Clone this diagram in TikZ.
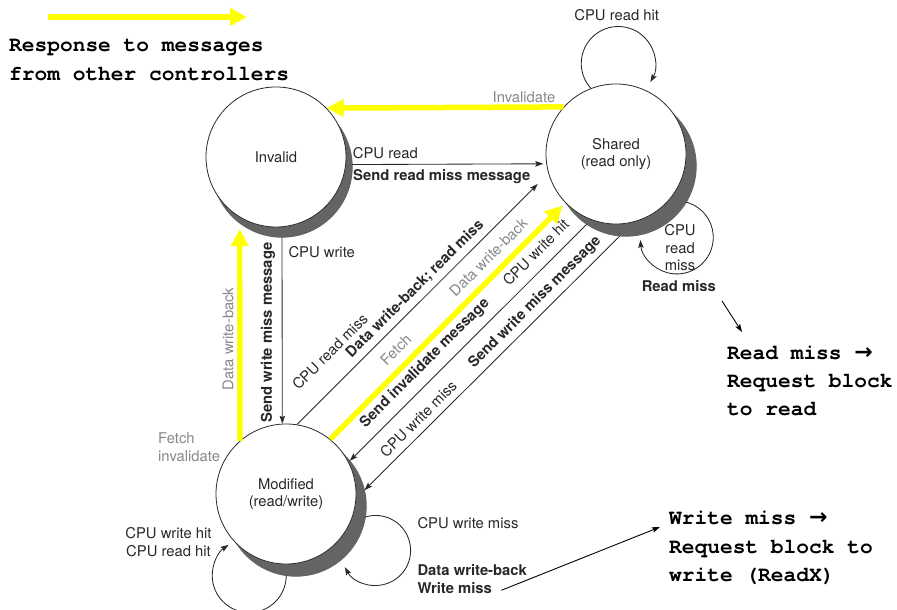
\documentclass[tikz,border=0pt]{standalone}
\usepackage{fontspec}
\setmainfont{TeX Gyre Heros}
\IfFontExistsTF{TeX Gyre Cursor}
  {\newfontfamily\notefont{TeX Gyre Cursor}}
  {\newfontfamily\notefont{Liberation Mono}}
\newfontfamily\arrowfont{DejaVu Sans}
\usetikzlibrary{arrows.meta}

\definecolor{hl}{RGB}{255,255,0}
\definecolor{shadowgray}{RGB}{100,100,100}
\definecolor{ink}{RGB}{40,40,40}
\definecolor{soft}{RGB}{135,135,135}

\newcommand\dgfont{\fontsize{14.8}{17.5}\selectfont}
\newcommand\cnfont{\notefont\bfseries\fontsize{21.2}{28.3}\selectfont}
\newcommand\rarr{{\arrowfont\bfseries\fontsize{22}{22}\selectfont →}}

\tikzset{
  stateshape/.style={circle, draw=ink, line width=0.8pt, fill=white,
    minimum size=140pt, inner sep=0pt, align=center, text=ink, font=\dgfont},
  stateshadow/.style={circle, draw=shadowgray, line width=0.5pt, fill=shadowgray,
    minimum size=140pt, inner sep=0pt},
  ring/.style={line width=1.7pt},
  edge/.style={draw=ink, line width=0.85pt, -{Stealth[length=8pt,width=5.5pt,inset=1.5pt]}},
  hlarrow/.style={draw=hl, line width=5.5pt, -{Triangle[length=17pt,width=17pt]}},
  notearrow/.style={draw=black, line width=0.9pt, -{Stealth[length=8pt,width=5.5pt,inset=1.5pt]}},
  lbl/.style={inner sep=0pt, text=ink, font=\dgfont},
  blbl/.style={inner sep=0pt, text=ink, font=\dgfont\bfseries},
  glbl/.style={inner sep=0pt, text=soft, font=\dgfont},
  note/.style={inner sep=0pt, text=black, font=\cnfont, align=left},
}

\begin{document}
\begin{tikzpicture}[x=1pt, y=1pt]
\useasboundingbox (0,0) rectangle (897,610);

% legend
\coordinate (legA) at (48,593);
\coordinate (legB) at (247,593);
\draw[hlarrow] (legA) -- (legB);
\node[note, anchor=north west] (legtext) at (9,571)
  {Response to messages\\from other controllers};

% centres of the states
\coordinate (invC) at (276,453);
\coordinate (shC)  at (616,456);
\coordinate (modC) at (286,116);

% drop shadows of the states, painted solid with close concentric rings
\node[stateshadow] (invS) at (282,443) {};
\node[stateshadow] (shS)  at (626,444) {};
\node[stateshadow] (modS) at (296,104) {};
\foreach \n in {invS,shS,modS}{
  \foreach \k in {0,...,46}{
    \pgfmathsetmacro\rr{0.8+1.5*\k}
    \draw[ring, shadowgray] (\n.center) circle[radius=\rr pt];
  }
}
% white faces of the states
\foreach \n in {invC,shC,modC}{
  \foreach \k in {0,...,45}{
    \pgfmathsetmacro\rr{0.8+1.5*\k}
    \draw[ring, white] (\n) circle[radius=\rr pt];
  }
  \draw[ring, white] (\n) circle[radius=69.2pt];
}

% states
\node[stateshape] (inv) at (invC) {Invalid};
\node[stateshape] (sh)  at (shC) {Shared\\(read only)};
\node[stateshape] (mod) at (modC) {Modified\\(read/write)};

% processor-side transitions
\draw[edge, shorten >=3pt] (invS.2.5) -- (sh.188);
\draw[edge] (invS.270) -- (mod.93);
\draw[edge, shorten >=15pt] (mod.81) -- (sh.196);
\draw[edge] (shS.236) -- (modS.40);
\draw[edge] (shS.265) -- (modS.13);

% bus-side transitions
\draw[hlarrow] (sh.138) -- (inv.44);
\draw[hlarrow, shorten >=6pt] (mod.131) -- (invS.233);
\draw[hlarrow, shorten >=4pt] (mod.51) -- (sh.224);

% self loops
\draw[edge] (sh.111) arc[start angle=222, end angle=-30, radius=37pt];
\draw[edge] (shS.-31) arc[start angle=75, end angle=-176, radius=36.5pt];
\draw[edge] (modS.262) arc[start angle=0, end angle=-236, radius=37pt];
\draw[edge] (modS.-9) arc[start angle=107, end angle=-151.5, radius=35pt];

% transition labels
\node[lbl, anchor=base] (cpuhit) at (616.7,589.3) {CPU read hit};
\node[glbl, anchor=base] (invl) at (524,507.3) {Invalidate};
\node[lbl, anchor=base west] (cpur) at (352.7,451.7) {CPU read};
\node[blbl, anchor=base west] (srm) at (353,429.5) {Send read miss message};
\node[lbl, anchor=base west] (cpuw) at (288.3,352.7) {CPU write};
\node[blbl, rotate=90] (swm) at (268,277.5) {Send write miss message};
\node[glbl, rotate=90] (dwbv) at (228,271) {Data write-back};
\node[glbl, anchor=north west, align=left] (fi) at (158,177.3) {Fetch\\invalidate};
\node[lbl, anchor=north, align=center] (hits) at (168.5,82.7) {CPU write hit\\CPU read hit};
\node[lbl, anchor=base west] (cwm) at (417.3,81) {CPU write miss};
\node[blbl, anchor=base west] (wbwm) at (417.3,34) {Data write-back};
\node[blbl, anchor=base west] (wmiss) at (417.3,16) {Write miss};
\node[lbl, anchor=north, align=center] (crm) at (680,385.6) {CPU\\read\\miss};
\node[blbl, anchor=base] (rml) at (678.8,318.3) {Read miss};

\node[lbl, rotate=45] (d1a) at (330,258.3) {CPU read miss};
\node[blbl, rotate=45] (d1b) at (415,321) {Data write-back; read miss};
\node[glbl, rotate=45] (d2a) at (395.7,260) {Fetch};
\node[glbl, rotate=45] (d2b) at (488.3,352.7) {Data write-back};
\node[blbl, rotate=45] (d3a) at (425,246.7) {Send invalidate message};
\node[lbl, rotate=45] (d3b) at (535.7,357.7) {CPU write hit};
\node[lbl, rotate=45] (d4a) at (418.3,191) {CPU write miss};
\node[blbl, rotate=45] (d4b) at (535,307.7) {Send write miss message};

% explanatory notes
\node[note, anchor=north west] (rmnote) at (727,264.5)
  {Read miss \rarr\\Request block\\to read};
\node[note, anchor=north west] (wmnote) at (669,99)
  {Write miss \rarr\\Request block to\\write (ReadX)};
\coordinate (rmtip) at (742,278);
\coordinate (wmtip) at (660,83);
\draw[notearrow, shorten <=11pt] (rml.base east) -- (rmtip);
\draw[notearrow, shorten <=10pt] (wmiss.base east) -- (wmtip);
\end{tikzpicture}
\end{document}
